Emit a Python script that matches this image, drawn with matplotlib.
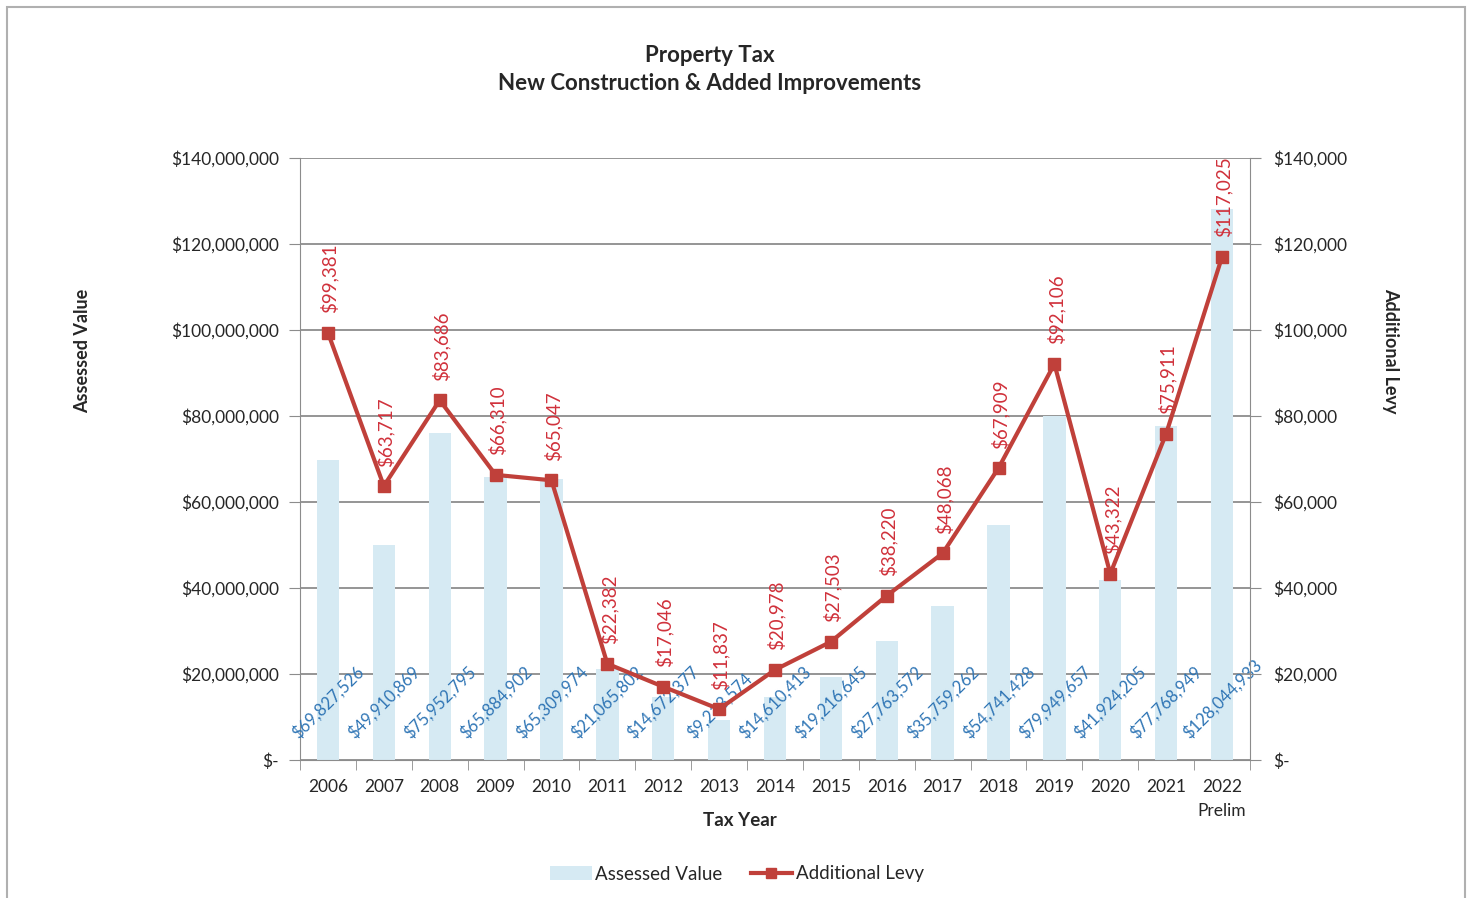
import matplotlib
matplotlib.use("Agg")
import matplotlib.pyplot as plt
from matplotlib.ticker import FuncFormatter, MultipleLocator
from matplotlib.patches import Rectangle, Patch
from matplotlib.lines import Line2D

years = ["2006", "2007", "2008", "2009", "2010", "2011", "2012", "2013", "2014",
         "2015", "2016", "2017", "2018", "2019", "2020", "2021", "2022\nPrelim"]
assessed = [69827526, 49910869, 75952795, 65884902, 65309974, 21065802, 14672377,
            9213574, 14610413, 19216645, 27763572, 35759262, 54741428, 79949657,
            41924205, 77768949, 128044933]
levy = [99381, 63717, 83686, 66310, 65047, 22382, 17046, 11837, 20978, 27503,
        38220, 48068, 67909, 92106, 43322, 75911, 117025]

plt.rcParams['font.family'] = ['Lato', 'DejaVu Sans']

BAR = '#d6eaf3'
LINE = '#c0403a'
RED_TXT = '#d0313b'
BLUE_TXT = '#2f75b5'
GRID = '#8c8c8c'
TXT = '#262626'

fig = plt.figure(figsize=(14.72, 8.98), dpi=100)
fig.patches.append(Rectangle((0.005, -0.01), 0.99, 1.002, transform=fig.transFigure,
                             fill=False, edgecolor='#b0b0b0', lw=1.5))

ax = fig.add_axes([300/1472, 138/898, 950/1472, 602/898])
ax2 = ax.twinx()

x = list(range(len(years)))
ax.bar(x, assessed, width=0.4, color=BAR, zorder=2)
ax.set_xlim(-0.5, len(years) - 0.5)
ax.set_ylim(0, 140_000_000)
ax2.set_ylim(0, 140_000)
ax.yaxis.set_major_locator(MultipleLocator(20_000_000))
ax2.yaxis.set_major_locator(MultipleLocator(20_000))

def fmt_money(v, pos):
    return "$-" if v == 0 else f"${v:,.0f}"
ax.yaxis.set_major_formatter(FuncFormatter(fmt_money))
ax2.yaxis.set_major_formatter(FuncFormatter(fmt_money))

ax.grid(axis='y', color=GRID, lw=1.3, zorder=1)
ax.set_axisbelow(True)

for a in (ax, ax2):
    for s in a.spines.values():
        s.set_visible(False)
ax.spines['left'].set_visible(True)
ax.spines['left'].set_color(GRID)
ax.spines['bottom'].set_visible(True)
ax.spines['bottom'].set_color(GRID)
ax2.spines['right'].set_visible(True)
ax2.spines['right'].set_color(GRID)

ax.tick_params(axis='y', length=8, color=GRID, labelsize=12.5, pad=7, labelcolor=TXT)
ax2.tick_params(axis='y', length=8, color=GRID, labelsize=12.5, pad=9, labelcolor=TXT)
ax.set_xticks(x)
ax.set_xticklabels(years, fontsize=12.5, linespacing=1.6, va='top', color=TXT)
ax.tick_params(axis='x', length=0, pad=14)
ax.set_xticks([i + 0.5 for i in x[:-1]] + [-0.5, len(years) - 0.5], minor=True)
ax.tick_params(axis='x', which='minor', length=7, color=GRID)

# bar labels
for xi, v in zip(x, assessed):
    ax.text(xi, 4_200_000, f"${v:,.0f}", rotation=45, ha='center', va='bottom',
            color=BLUE_TXT, fontsize=12, zorder=3)

ax2.plot(x, levy, color=LINE, lw=3, marker='s', markersize=8, zorder=5)
for xi, v in zip(x, levy):
    ax2.annotate(f"${v:,.0f}", (xi, v), xytext=(1, 14), textcoords='offset points',
                 rotation=90, ha='center', va='bottom', color=RED_TXT, fontsize=13.5)

ax.set_xlabel("Tax Year", fontsize=13.5, fontweight='bold', color=TXT)
ax.xaxis.set_label_coords(0.463, -0.086)
ax.set_ylabel("Assessed Value", fontsize=13, fontweight='bold', color=TXT)
ax.yaxis.set_label_coords(-0.22, 0.68)
ax2.set_ylabel("Additional Levy", fontsize=13, fontweight='bold', rotation=270,
               va='bottom', color=TXT)
ax2.yaxis.set_label_coords(1.139, 0.68)

fig.text(710/1472, 1 - 56/898, "Property Tax", ha='center', va='center',
         fontsize=16, fontweight='bold', color=TXT)
fig.text(710/1472, 1 - 84/898, "New Construction & Added Improvements", ha='center',
         va='center', fontsize=16, fontweight='bold', color=TXT)

handles = [Patch(facecolor=BAR, edgecolor='none'),
           Line2D([0], [0], color=LINE, lw=3, marker='s', markersize=7)]
fig.legend(handles, ["Assessed Value", "Additional Levy"], loc='center',
           bbox_to_anchor=(737/1472, 1 - 874/898), ncol=2, frameon=False,
           fontsize=13.5, handlelength=2.2, handletextpad=0.2, columnspacing=1.5,
           labelcolor=TXT)

fig.savefig("out.png", dpi=100)
